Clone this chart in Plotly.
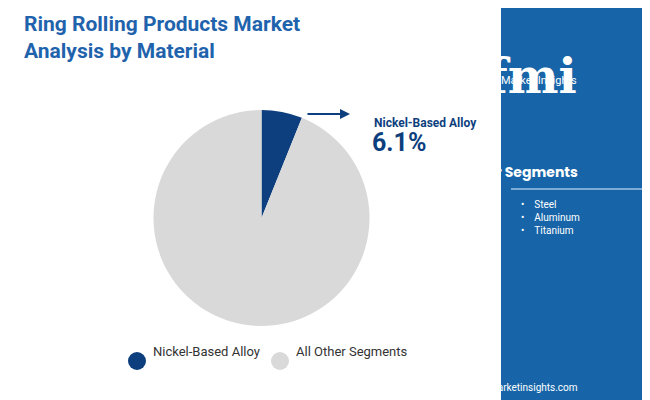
import plotly.graph_objects as go

labels = ["Nickel-Based Alloy", "All Other Segments"]
values = [6.1, 93.9]
colors = ["#0d3f7e", "#d9d9d9"]
other_segments = ["Steel", "Aluminum", "Titanium"]

W, H = 650, 400
fig = go.Figure(go.Pie(labels=labels, values=values, marker=dict(colors=colors),
                       sort=False, direction="clockwise", rotation=0, textinfo="none",
                       hoverinfo="label+percent", showlegend=False,
                       domain=dict(x=[0.222, 0.558], y=[0.205, 0.745])))

def px(x): return x / W
def py(y): return 1 - y / H

shapes = [
    dict(type="rect", xref="paper", yref="paper", x0=px(493), x1=1, y0=0, y1=1, fillcolor="#1765a8", line_width=0, layer="below"),
    dict(type="rect", xref="paper", yref="paper", x0=0, x1=px(165), y0=0, y1=py(396), fillcolor="#7dbb42", line_width=0),
    dict(type="rect", xref="paper", yref="paper", x0=px(165), x1=px(330), y0=0, y1=py(396), fillcolor="#e8572a", line_width=0),
    dict(type="rect", xref="paper", yref="paper", x0=px(330), x1=px(493), y0=0, y1=py(396), fillcolor="#7b2d8e", line_width=0),
    dict(type="line", xref="paper", yref="paper", x0=px(503), x1=px(642), y0=py(181), y1=py(181), line=dict(color="#9ec3e6", width=1.5)),
    dict(type="circle", xref="paper", yref="paper", x0=px(120), x1=px(138), y0=py(362), y1=py(344), fillcolor=colors[0], line_width=0),
    dict(type="circle", xref="paper", yref="paper", x0=px(263), x1=px(281), y0=py(362), y1=py(344), fillcolor=colors[1], line_width=0),
]

ann = [
    dict(x=px(14), y=py(30), text="<b>Ring Rolling Products Market<br>Analysis by Material</b>", xanchor="left", yanchor="middle", align="left",
         font=dict(family="Roboto", size=21, color="#1f63ad"), showarrow=False),
    dict(x=px(364), y=py(106), text="<b>Nickel-Based Alloy</b>", xanchor="left", font=dict(family="Roboto", size=12, color="#0d3f7e"), showarrow=False),
    dict(x=px(362), y=py(134), text="<b>6.1%</b>", xanchor="left", font=dict(family="Roboto", size=25, color="#0d3f7e"), showarrow=False),
    dict(x=px(342), y=py(106), ax=-44, ay=0,
         showarrow=True, arrowhead=2, arrowsize=1, arrowwidth=2, arrowcolor="#0d3f7e", text=""),
    dict(x=px(143), y=py(353), text="Nickel-Based Alloy", xanchor="left", font=dict(family="Roboto", size=13, color="#333"), showarrow=False),
    dict(x=px(286), y=py(353), text="All Other Segments", xanchor="left", font=dict(family="Roboto", size=13, color="#333"), showarrow=False),
    dict(x=px(571), y=py(38), text="<b>fmi</b>", font=dict(family="DejaVu Serif", size=48, color="white"), showarrow=False),
    dict(x=px(571), y=py(64), text="Future Market Insights", font=dict(family="Roboto", size=11, color="white"), showarrow=False),
    dict(x=px(572), y=py(164), text="<b>Other Segments</b>", font=dict(family="Poppins, Roboto", size=14, color="white"), showarrow=False),
    dict(x=px(572), y=py(387), text="www.futuremarketinsights.com", font=dict(family="Roboto", size=10, color="white"), showarrow=False),
]
for i, s in enumerate(other_segments):
    ann.append(dict(x=px(511), y=py(197 + i * 12.5), text="•&nbsp;&nbsp;&nbsp;&nbsp;" + s, xanchor="left",
                    font=dict(family="Roboto", size=10, color="white"), showarrow=False))
for a in ann:
    a.setdefault("xref", "paper"); a.setdefault("yref", "paper")

fig.update_layout(width=W, height=H, margin=dict(l=0, r=0, t=0, b=0), paper_bgcolor="white",
                  shapes=shapes, annotations=ann)
fig.write_html("out.html")
